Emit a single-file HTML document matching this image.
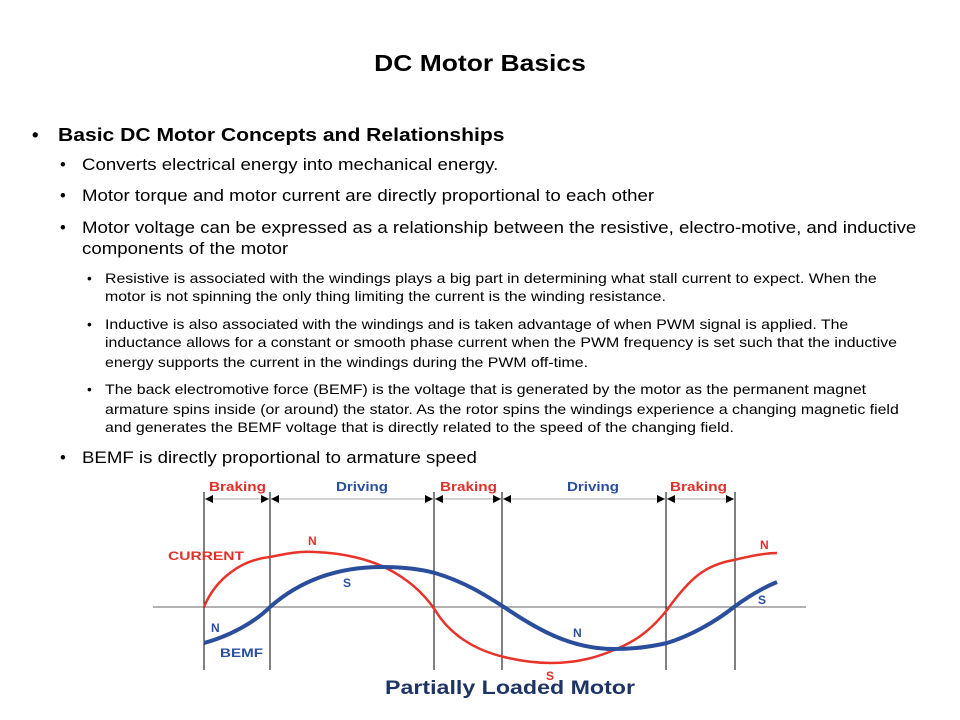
<!DOCTYPE html>
<html><head><meta charset="utf-8"><style>
body{margin:0;width:960px;height:720px;background:#fff;position:relative;overflow:hidden;font-family:"Liberation Sans",sans-serif;color:#000}
.t{position:absolute;white-space:nowrap;line-height:1;transform-origin:0 0}
.h{font-size:23px;font-weight:bold;left:0;width:960px;text-align:center;top:52px;transform:scaleX(1.15);transform-origin:480px 0}
.l1{font-size:18.5px;font-weight:bold;transform:scaleX(1.14)}
.l2{font-size:16.5px;transform:scaleX(1.13)}
.l3{font-size:13.8px;transform:scaleX(1.15)}
.b{transform:none}
</style></head><body>
<div class="t h">DC Motor Basics</div>
<div class="t l1 b" style="left:32px;top:126px">•</div>
<div class="t l1" style="left:58px;top:126px">Basic DC Motor Concepts and Relationships</div>
<div class="t l2 b" style="left:60px;top:157px">•</div>
<div class="t l2" style="left:82px;top:157px">Converts electrical energy into mechanical energy.</div>
<div class="t l2 b" style="left:60px;top:188px">•</div>
<div class="t l2" style="left:82px;top:188px">Motor torque and motor current are directly proportional to each other</div>
<div class="t l2 b" style="left:60px;top:220px">•</div>
<div class="t l2" style="left:82px;top:220px">Motor voltage can be expressed as a relationship between the resistive, electro-motive, and inductive</div>
<div class="t l2" style="left:82px;top:241px">components of the motor</div>
<div class="t l3 b" style="left:87px;top:272px">•</div>
<div class="t l3" style="left:105px;top:272px">Resistive is associated with the windings plays a big part in determining what stall current to expect. When the</div>
<div class="t l3" style="left:105px;top:290px">motor is not spinning the only thing limiting the current is the winding resistance.</div>
<div class="t l3 b" style="left:87px;top:318px">•</div>
<div class="t l3" style="left:105px;top:318px">Inductive is also associated with the windings and is taken advantage of when PWM signal is applied. The</div>
<div class="t l3" style="left:105px;top:336px">inductance allows for a constant or smooth phase current when the PWM frequency is set such that the inductive</div>
<div class="t l3" style="left:105px;top:356px">energy supports the current in the windings during the PWM off-time.</div>
<div class="t l3 b" style="left:87px;top:383px">•</div>
<div class="t l3" style="left:105px;top:383px">The back electromotive force (BEMF) is the voltage that is generated by the motor as the permanent magnet</div>
<div class="t l3" style="left:105px;top:403px">armature spins inside (or around) the stator. As the rotor spins the windings experience a changing magnetic field</div>
<div class="t l3" style="left:105px;top:421px">and generates the BEMF voltage that is directly related to the speed of the changing field.</div>
<div class="t l2 b" style="left:60px;top:450px">•</div>
<div class="t l2" style="left:82px;top:450px">BEMF is directly proportional to armature speed</div>

<svg width="960" height="720" style="position:absolute;left:0;top:0" font-family="Liberation Sans, sans-serif" font-weight="bold">
<defs>
<marker id="b" viewBox="0 0 10 10" refX="10" refY="5" markerWidth="14" markerHeight="8" orient="auto-start-reverse" markerUnits="userSpaceOnUse"><path d="M0,0L10,5L0,10z" fill="#000"/></marker></defs>
<line x1="153" y1="607" x2="806" y2="607" stroke="#999" stroke-width="1.5"/>
<g stroke="#000" stroke-width="1">
<line x1="204" y1="492" x2="204" y2="670"/><line x1="270" y1="492" x2="270" y2="670"/>
<line x1="434" y1="492" x2="434" y2="670"/><line x1="502" y1="492" x2="502" y2="670"/>
<line x1="666" y1="492" x2="666" y2="670"/><line x1="735" y1="492" x2="735" y2="670"/>
</g>
<g stroke="#aaa" stroke-width="1">
<line x1="205" y1="499" x2="269" y2="499" marker-start="url(#b)" marker-end="url(#b)"/>
<line x1="271" y1="499" x2="433" y2="499" marker-start="url(#b)" marker-end="url(#b)"/>
<line x1="435" y1="499" x2="501" y2="499" marker-start="url(#b)" marker-end="url(#b)"/>
<line x1="503" y1="499" x2="665" y2="499" marker-start="url(#b)" marker-end="url(#b)"/>
<line x1="667" y1="499" x2="734" y2="499" marker-start="url(#b)" marker-end="url(#b)"/>
</g>
<g font-size="12.5">
<text x="209" y="491" fill="#e0302a" textLength="57" lengthAdjust="spacingAndGlyphs">Braking</text>
<text x="336" y="491" fill="#2a4fa0" textLength="52" lengthAdjust="spacingAndGlyphs">Driving</text>
<text x="440" y="491" fill="#e0302a" textLength="57" lengthAdjust="spacingAndGlyphs">Braking</text>
<text x="567" y="491" fill="#2a4fa0" textLength="52" lengthAdjust="spacingAndGlyphs">Driving</text>
<text x="670" y="491" fill="#e0302a" textLength="57" lengthAdjust="spacingAndGlyphs">Braking</text>
</g>
<path d="M204,607 C215,580 240,560 270,557 C290,553 300,551 315,552 C345,553 370,560 386,568 C410,580 425,595 435,610 C450,635 475,650 504,657 C525,662 540,663 551,663 C580,663 600,656 614,650 C640,640 655,625 667,610 C690,578 705,565 734,560 C750,556 765,553 777,553" fill="none" stroke="#e8332b" stroke-width="2.5"/>
<path d="M204,643 C230,636 255,622 270,607 C295,585 330,567 382,567 C405,567 420,569 435,573 C465,582 485,595 504,607 C535,628 570,649 614,649 C635,649 650,647 667,643 C690,636 715,622 734,607 C750,595 765,587 777,582" fill="none" stroke="#2b4e9c" stroke-width="4"/>
<g font-size="12">
<text x="168" y="560" fill="#e0302a" textLength="76" lengthAdjust="spacingAndGlyphs">CURRENT</text>
<text x="308" y="545" fill="#e0302a">N</text>
<text x="343" y="587" fill="#2a4fa0">S</text>
<text x="211" y="632" fill="#2a4fa0">N</text>
<text x="220" y="657" fill="#2a4fa0" textLength="43" lengthAdjust="spacingAndGlyphs">BEMF</text>
<text x="573" y="637" fill="#2a4fa0">N</text>
<text x="546" y="680" fill="#e0302a">S</text>
<text x="760" y="549" fill="#e0302a">N</text>
<text x="758" y="604" fill="#2a4fa0">S</text>
</g>
<text x="385" y="694" font-size="19" fill="#1f3466" textLength="250" lengthAdjust="spacingAndGlyphs">Partially Loaded Motor</text>
</svg>
</body></html>
